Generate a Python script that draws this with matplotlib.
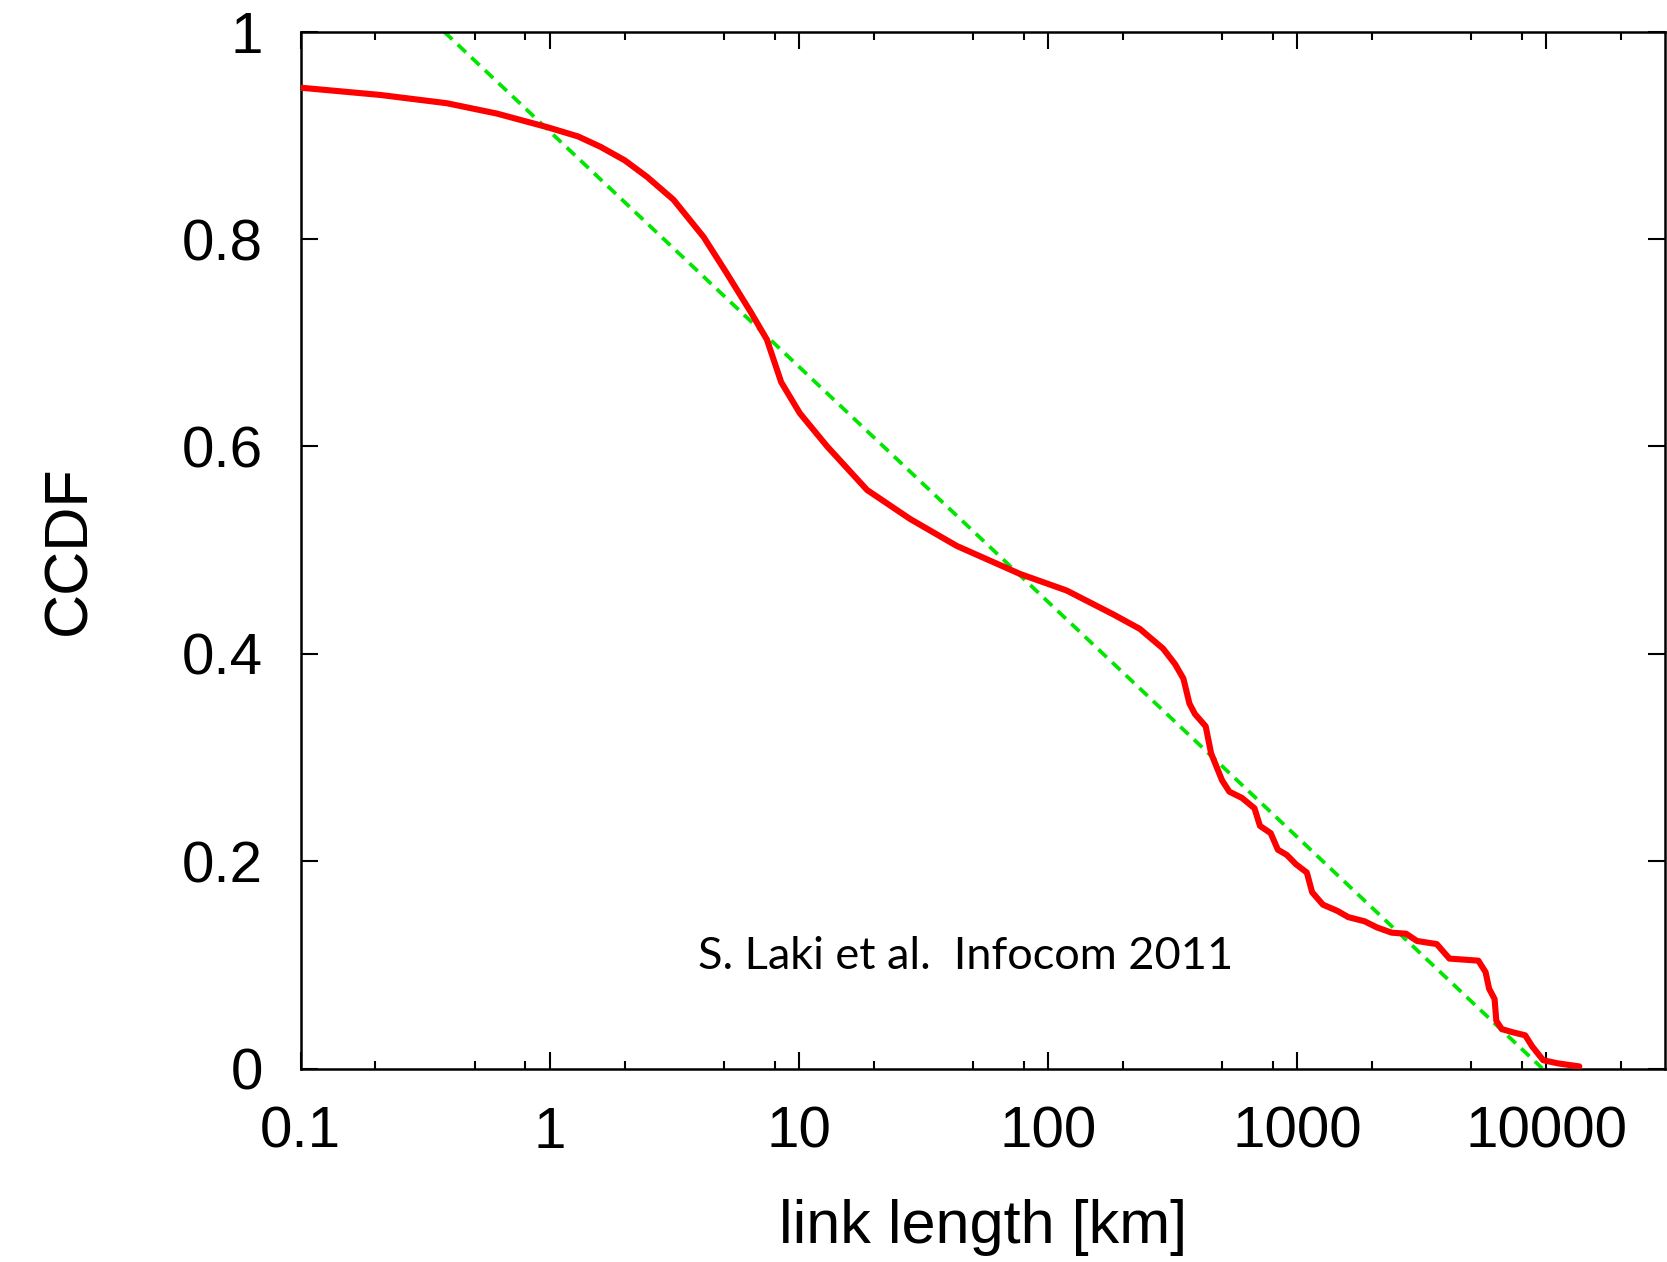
import matplotlib
matplotlib.use("Agg")
import matplotlib.pyplot as plt
from matplotlib.ticker import FixedLocator, NullFormatter, FixedFormatter

# ---- data ----
length_km = [0.1, 0.209, 0.387, 0.615, 0.976, 1.3, 1.6, 2.0, 2.46, 3.14, 4.15, 5.14,
             6.4, 7.45, 8.5, 10.1, 13.0, 18.8, 28.0, 43.1, 77.3, 119,
             183, 234, 290, 324, 350, 370, 389, 430, 452, 500,
             535, 601, 675, 710, 784, 838, 910, 990, 1095, 1150,
             1271, 1453, 1606, 1866, 2097, 2398, 2742, 3030, 3639, 4090,
             5346, 5713, 5903, 6210, 6310, 6636, 7333, 8240, 8810, 9730,
             11120, 13590]
ccdf = [0.946, 0.939, 0.931, 0.921, 0.908, 0.899, 0.889, 0.876, 0.860, 0.838, 0.802, 0.767,
        0.730, 0.703, 0.662, 0.632, 0.600, 0.558, 0.530, 0.504, 0.477, 0.461,
        0.438, 0.424, 0.405, 0.390, 0.376, 0.352, 0.342, 0.330, 0.304, 0.278,
        0.267, 0.261, 0.251, 0.234, 0.227, 0.211, 0.206, 0.197, 0.189, 0.170,
        0.158, 0.152, 0.146, 0.142, 0.136, 0.131, 0.130, 0.123, 0.120, 0.106,
        0.104, 0.093, 0.077, 0.067, 0.046, 0.038, 0.035, 0.032, 0.021, 0.008,
        0.005, 0.002]

fit_x = [0.377, 9660]
fit_y = [1.0, 0.0]

x_major = [0.1, 1, 10, 100, 1000, 10000]
x_labels = ["0.1", "1", "10", "100", "1000", "10000"]
x_minor = [m * d for d in [0.1, 1, 10, 100, 1000, 10000] for m in (2, 5, 8)]
y_major = [0, 0.2, 0.4, 0.6, 0.8, 1.0]
y_labels = ["0", "0.2", "0.4", "0.6", "0.8", "1"]

annotation = "S. Laki et al.  Infocom 2011"

# ---- figure ----
plt.rcParams['font.family'] = ['Liberation Sans', 'DejaVu Sans']
W, H = 1667, 1262
fig = plt.figure(figsize=(W / 100, H / 100), dpi=100)
ax = fig.add_axes([300.5 / W, 1 - 1068.5 / H, (1665 - 300.5) / W, (1068.5 - 31.7) / H])

ax.plot(length_km, ccdf, color='#ff0000', lw=4.4, solid_joinstyle='round',
        solid_capstyle='round', zorder=3)
ax.plot(fit_x, fit_y, color='#00e600', lw=2.7, dashes=(3, 2), zorder=2)

ax.set_xscale('log')
ax.set_xlim(0.1, 3e4)
ax.set_ylim(0, 1)

ax.xaxis.set_major_locator(FixedLocator(x_major))
ax.xaxis.set_major_formatter(FixedFormatter(x_labels))
ax.xaxis.set_minor_locator(FixedLocator(x_minor))
ax.xaxis.set_minor_formatter(NullFormatter())
ax.yaxis.set_major_locator(FixedLocator(y_major))
ax.yaxis.set_major_formatter(FixedFormatter(y_labels))

ax.tick_params(which='both', direction='in', top=True, right=True, width=1.5)
ax.tick_params(which='major', length=12)
ax.tick_params(which='minor', length=6)
ax.tick_params(axis='x', which='major', labelsize=42, pad=27)
ax.tick_params(axis='y', which='major', labelsize=42, pad=27)

for s in ax.spines.values():
    s.set_linewidth(1.8)

ax.set_xlabel("link length [km]", fontsize=44, labelpad=28)
ax.set_ylabel("CCDF", fontsize=44, labelpad=60)

ax.text(0.4875, 0.0956, annotation, transform=ax.transAxes, ha='center',
        va='baseline', fontsize=32.5, family=['Lato', 'DejaVu Sans'])

fig.savefig("out.png", dpi=100)
